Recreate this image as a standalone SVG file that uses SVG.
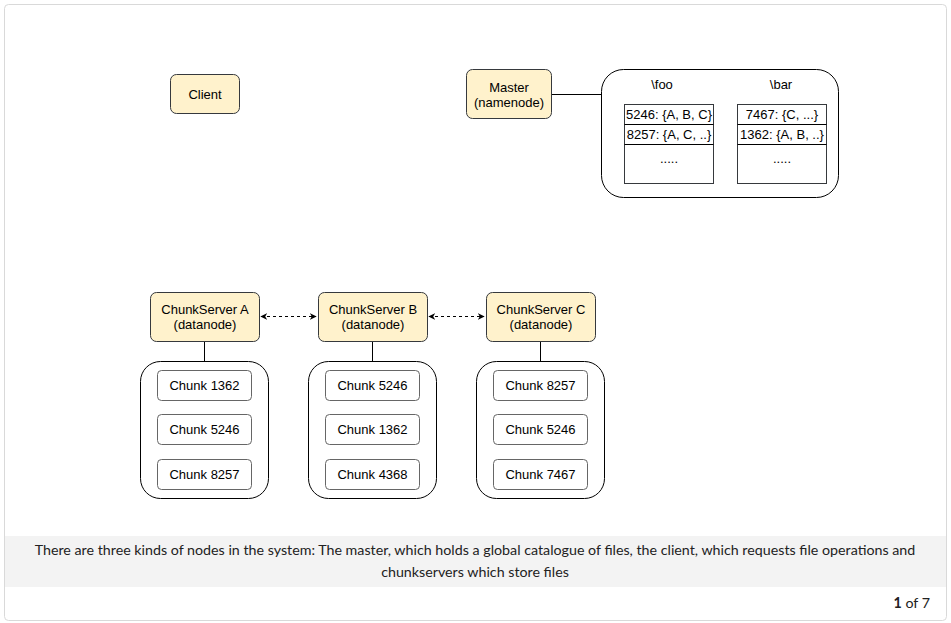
<svg xmlns="http://www.w3.org/2000/svg" width="951" height="623" viewBox="0 0 951 623">
<defs>
<style>
.frame{fill:#fff;stroke:#d9d9d9;stroke-width:1}
.node{fill:#fff2cc;stroke:#36393d;stroke-width:1}
.cont{fill:#fff;stroke:#000;stroke-width:1}
.chunk{fill:#fff;stroke:#666;stroke-width:1}
.tbl{fill:#fff;stroke:#36393d;stroke-width:1}
.t{font-family:"Liberation Sans",Arial,sans-serif;font-size:13px;fill:#000;text-anchor:middle}
.cap{font-family:Lato,"Open Sans",sans-serif;font-size:14.25px;fill:#222;text-anchor:middle}
.line{stroke:#000;stroke-width:1;fill:none}
.dash{stroke:#000;stroke-width:1;fill:none;stroke-dasharray:3 3}
</style>
<marker id="ah" viewBox="0 0 10 10" refX="9" refY="5" markerWidth="7" markerHeight="7" orient="auto-start-reverse" markerUnits="userSpaceOnUse">
<path d="M0,0 L10,5 L0,10 L3,5 z" fill="#000"/>
</marker>
</defs>
<rect class="frame" x="4.5" y="4.5" width="942" height="616" rx="4"/>
<rect x="5" y="536" width="941" height="51" fill="#f3f3f3"/>
<text class="cap" x="475" y="555">There are three kinds of nodes in the system: The master, which holds a global catalogue of files, the client, which requests file operations and</text>
<text class="cap" x="475" y="577">chunkservers which store files</text>
<text x="930" y="608" style="font-family:Lato,'Open Sans',sans-serif;font-size:14.25px;fill:#222;text-anchor:end"><tspan font-weight="bold">1</tspan> of 7</text>

<g id="connectors">
<line class="line" x1="551" y1="94.5" x2="601" y2="94.5"/>
<line class="dash" x1="261" y1="316.5" x2="316" y2="316.5" marker-start="url(#ah)" marker-end="url(#ah)"/>
<line class="dash" x1="429" y1="316.5" x2="484" y2="316.5" marker-start="url(#ah)" marker-end="url(#ah)"/>
<line class="line" x1="204.5" y1="341" x2="204.5" y2="361"/>
<line class="line" x1="372.5" y1="341" x2="372.5" y2="361"/>
<line class="line" x1="540.5" y1="341" x2="540.5" y2="361"/>
</g>

<g id="client">
<rect class="node" x="170.5" y="74.5" width="69" height="39" rx="6"/>
<text class="t" x="205" y="98.5">Client</text>
</g>

<g id="master">
<rect class="node" x="466.5" y="69.5" width="85" height="49" rx="6"/>
<text class="t" x="509" y="92">Master</text>
<text class="t" x="509" y="106.5">(namenode)</text>
</g>

<g id="catalogue">
<rect class="cont" x="601.5" y="69.5" width="237" height="128" rx="22"/>
<text class="t" x="662" y="89">\foo</text>
<text class="t" x="781" y="89">\bar</text>
<g id="foo-table">
<rect class="tbl" x="624.5" y="104.5" width="89" height="79"/>
<line class="line" x1="624.5" y1="124.5" x2="713.5" y2="124.5"/>
<line class="line" x1="624.5" y1="144.5" x2="713.5" y2="144.5"/>
<text class="t" x="669" y="119">5246: {A, B, C}</text>
<text class="t" x="669" y="139">8257: {A, C, ..}</text>
<text class="t" x="669" y="163">.....</text>
</g>
<g id="bar-table">
<rect class="tbl" x="737.5" y="104.5" width="89" height="79"/>
<line class="line" x1="737.5" y1="124.5" x2="826.5" y2="124.5"/>
<line class="line" x1="737.5" y1="144.5" x2="826.5" y2="144.5"/>
<text class="t" x="782" y="119">7467: {C, ...}</text>
<text class="t" x="782" y="139">1362: {A, B, ..}</text>
<text class="t" x="782" y="163">.....</text>
</g>
</g>

<g id="chunkserver-a">
<rect class="node" x="150.5" y="292.5" width="109" height="49" rx="6"/>
<text class="t" x="205" y="313.5">ChunkServer A</text>
<text class="t" x="205" y="328.5">(datanode)</text>
</g>
<g id="chunkserver-b">
<rect class="node" x="318.5" y="292.5" width="109" height="49" rx="6"/>
<text class="t" x="373" y="313.5">ChunkServer B</text>
<text class="t" x="373" y="328.5">(datanode)</text>
</g>
<g id="chunkserver-c">
<rect class="node" x="486.5" y="292.5" width="109" height="49" rx="6"/>
<text class="t" x="541" y="313.5">ChunkServer C</text>
<text class="t" x="541" y="328.5">(datanode)</text>
</g>

<g id="chunks-a">
<rect class="cont" x="140.5" y="361.5" width="128" height="137" rx="20"/>
<rect class="chunk" x="157.5" y="370.5" width="94" height="30" rx="4"/>
<text class="t" x="204.5" y="390">Chunk 1362</text>
<rect class="chunk" x="157.5" y="414.5" width="94" height="30" rx="4"/>
<text class="t" x="204.5" y="434">Chunk 5246</text>
<rect class="chunk" x="157.5" y="459.5" width="94" height="30" rx="4"/>
<text class="t" x="204.5" y="479">Chunk 8257</text>
</g>
<g id="chunks-b">
<rect class="cont" x="308.5" y="361.5" width="128" height="137" rx="20"/>
<rect class="chunk" x="325.5" y="370.5" width="94" height="30" rx="4"/>
<text class="t" x="372.5" y="390">Chunk 5246</text>
<rect class="chunk" x="325.5" y="414.5" width="94" height="30" rx="4"/>
<text class="t" x="372.5" y="434">Chunk 1362</text>
<rect class="chunk" x="325.5" y="459.5" width="94" height="30" rx="4"/>
<text class="t" x="372.5" y="479">Chunk 4368</text>
</g>
<g id="chunks-c">
<rect class="cont" x="476.5" y="361.5" width="128" height="137" rx="20"/>
<rect class="chunk" x="493.5" y="370.5" width="94" height="30" rx="4"/>
<text class="t" x="540.5" y="390">Chunk 8257</text>
<rect class="chunk" x="493.5" y="414.5" width="94" height="30" rx="4"/>
<text class="t" x="540.5" y="434">Chunk 5246</text>
<rect class="chunk" x="493.5" y="459.5" width="94" height="30" rx="4"/>
<text class="t" x="540.5" y="479">Chunk 7467</text>
</g>
</svg>
